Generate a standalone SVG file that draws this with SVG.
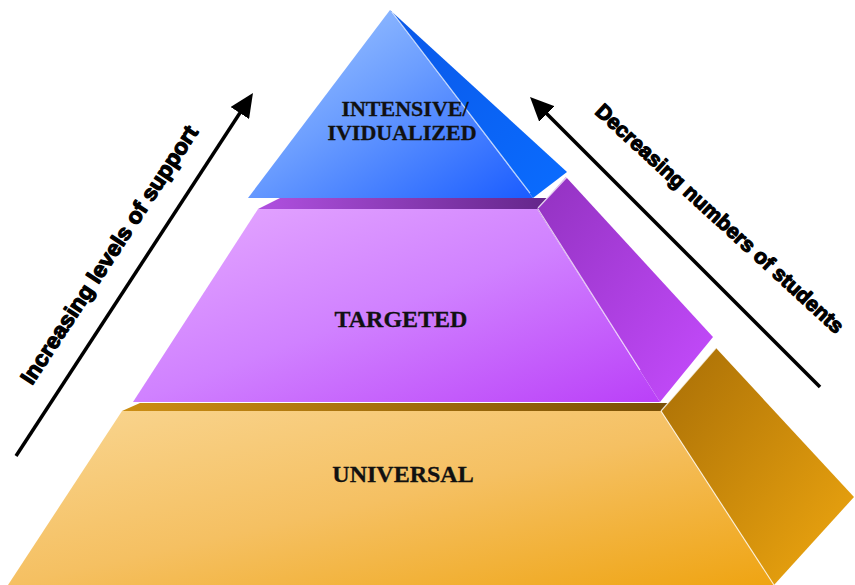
<svg xmlns="http://www.w3.org/2000/svg" width="855" height="585" viewBox="0 0 855 585">
  <style>
    .tier-label { font-family: "Liberation Sans", Arial, sans-serif; font-family: "Liberation Serif", "Times New Roman", serif; font-weight: bold; fill: #111; stroke: #111; stroke-width: 0.3; text-anchor: middle; }
    .axis-label { font-family: "Liberation Sans", Arial, sans-serif; font-weight: bold; font-size: 22px; fill: #000; stroke: #000; stroke-width: 1.2; stroke-linejoin: round; }
    .seam { stroke: #ffffff; stroke-opacity: 0.75; stroke-width: 1.2; fill: none; }
    .arrow { stroke: #000; stroke-width: 3.5; fill: none; marker-end: url(#head); }
  </style>
  <defs>
    <marker id="head" viewBox="0 0 24 22" refX="12" refY="11" markerWidth="24" markerHeight="22" markerUnits="userSpaceOnUse" orient="auto">
      <path d="M0,0 L24,11 L0,22 Z" fill="#000"/>
    </marker>
    <linearGradient id="blueFront" x1="0" y1="0" x2="1" y2="1">
      <stop offset="0" stop-color="#a8ccff"/>
      <stop offset="0.45" stop-color="#6c9eff"/>
      <stop offset="1" stop-color="#1a5cff"/>
    </linearGradient>
    <linearGradient id="blueSide" x1="0" y1="0" x2="1" y2="1">
      <stop offset="0" stop-color="#0a58e8"/>
      <stop offset="1" stop-color="#0a6cff"/>
    </linearGradient>
    <linearGradient id="purpleFront" x1="0" y1="0" x2="1" y2="1">
      <stop offset="0" stop-color="#e6aaff"/>
      <stop offset="0.5" stop-color="#d081ff"/>
      <stop offset="1" stop-color="#ba40f8"/>
    </linearGradient>
    <linearGradient id="purpleSide" x1="0" y1="0" x2="1" y2="1">
      <stop offset="0" stop-color="#9232c0"/>
      <stop offset="1" stop-color="#c64cff"/>
    </linearGradient>
    <linearGradient id="purpleLedge" x1="0" y1="0" x2="1" y2="0">
      <stop offset="0" stop-color="#b050e0"/>
      <stop offset="1" stop-color="#64268a"/>
    </linearGradient>
    <linearGradient id="orangeFront" x1="0" y1="0" x2="1" y2="1">
      <stop offset="0" stop-color="#f9d692"/>
      <stop offset="0.5" stop-color="#f5c062"/>
      <stop offset="1" stop-color="#efa412"/>
    </linearGradient>
    <linearGradient id="orangeSide" x1="0" y1="0" x2="1" y2="1">
      <stop offset="0" stop-color="#a86e06"/>
      <stop offset="1" stop-color="#f0a810"/>
    </linearGradient>
    <linearGradient id="orangeLedge" x1="0" y1="0" x2="1" y2="0">
      <stop offset="0" stop-color="#cc8e14"/>
      <stop offset="1" stop-color="#7a5005"/>
    </linearGradient>
  </defs>

  <rect x="0" y="0" width="855" height="585" fill="#ffffff"/>

  <g id="tier-universal">
    <polygon points="122,411 140,403 668,403 661,411" fill="url(#orangeLedge)"/>
    <polygon points="661,411 716,348 854,497 774,585" fill="url(#orangeSide)"/>
    <polygon points="122,411 661,411 774,585 8,585" fill="url(#orangeFront)"/>
    <line class="seam" x1="661" y1="411" x2="716" y2="348"/>
    <line class="seam" x1="661" y1="411" x2="774" y2="585"/>
    <text class="tier-label" x="403" y="482" font-size="24">UNIVERSAL</text>
  </g>

  <g id="tier-targeted">
    <polygon points="258,209 280,198 547,198 537,209" fill="url(#purpleLedge)"/>
    <polygon points="537,209 566,177 713,337 660,402" fill="url(#purpleSide)"/>
    <polygon points="258,209 537,209 660,402 133,402" fill="url(#purpleFront)"/>
    <line class="seam" x1="538" y1="208" x2="567" y2="177"/>
    <line class="seam" x1="538" y1="209" x2="640" y2="370"/>
    <text class="tier-label" x="401" y="327" font-size="24">TARGETED</text>
  </g>

  <g id="tier-intensive">
    <polygon points="390,10 567,172 533,198" fill="url(#blueSide)"/>
    <polygon points="390,10 533,198 248,198" fill="url(#blueFront)"/>
    <line class="seam" x1="392" y1="12" x2="530" y2="193" stroke-opacity="0.5"/>
    <text class="tier-label" font-size="22"><tspan x="405" y="116">INTENSIVE/</tspan><tspan x="402" y="140">IVIDUALIZED</tspan></text>
  </g>

  <g id="connectors">
    <line class="arrow" x1="16" y1="456" x2="246.4" y2="103"/>
    <line class="arrow" x1="820" y1="387" x2="538.5" y2="105.5"/>
  </g>

  <g id="label-support">
    <text class="axis-label" transform="translate(32,386) rotate(-56.7)" textLength="304" lengthAdjust="spacingAndGlyphs">Increasing levels of support</text>
  </g>
  <g id="label-students">
    <text class="axis-label" font-size="21" style="font-size:21px" transform="translate(594,113) rotate(42.5)" textLength="328" lengthAdjust="spacingAndGlyphs">Decreasing numbers of students</text>
  </g>
</svg>
